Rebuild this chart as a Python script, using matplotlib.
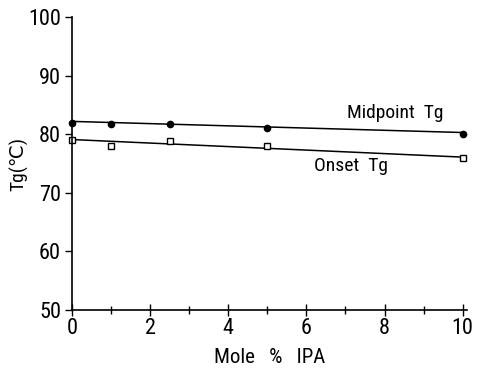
import matplotlib
matplotlib.use("Agg")
import matplotlib.pyplot as plt
from matplotlib import font_manager
from matplotlib.ticker import MultipleLocator

mole_pct = [0, 1, 2.5, 5, 10]
midpoint_tg = [81.9, 81.8, 81.8, 81.0, 80.0]
onset_tg = [79.0, 78.0, 78.8, 78.0, 75.9]
mid_fit = [82.2, 80.3]
onset_fit = [79.1, 76.1]
fit_x = [0, 10]

# prefer a narrow face if the box has one
names = {f.name for f in font_manager.fontManager.ttflist}
family = [n for n in ["Roboto Condensed", "Liberation Sans Narrow", "DejaVu Sans"] if n in names]
plt.rcParams["font.family"] = family + ["DejaVu Sans"]

fig = plt.figure(figsize=(4.87, 3.73), dpi=100)
ax = fig.add_axes([0.148, 0.169, 0.81, 0.785])

ax.plot(fit_x, mid_fit, color="black", lw=1.1)
ax.plot(fit_x, onset_fit, color="black", lw=1.1)
ax.plot(mole_pct, midpoint_tg, "o", color="black", ms=4.5, clip_on=False)
ax.plot(mole_pct, onset_tg, "s", mfc="white", mec="black", mew=1.0, ms=4.5, clip_on=False)

ax.text(7.05, 83.6, "Midpoint  Tg", fontsize=14, va="center")
ax.text(6.2, 74.5, "Onset  Tg", fontsize=14, va="center")

ax.set_xlim(0, 10.1)
ax.set_ylim(50, 100)
ax.xaxis.set_major_locator(MultipleLocator(2))
ax.xaxis.set_minor_locator(MultipleLocator(1))
ax.yaxis.set_major_locator(MultipleLocator(10))
ax.tick_params(axis="x", which="major", direction="inout", length=8, width=1, labelsize=16, pad=2)
ax.tick_params(axis="x", which="minor", direction="inout", length=6, width=1)
ax.tick_params(axis="y", which="major", direction="out", length=5, width=1, labelsize=16, pad=3)

for side in ["top", "right"]:
    ax.spines[side].set_visible(False)
for side in ["left", "bottom"]:
    ax.spines[side].set_linewidth(1.2)

ax.set_xlabel("Mole   %   IPA", fontsize=15, labelpad=6)
ax.set_ylabel("Tg(\u2103)", fontsize=14, labelpad=0)

fig.savefig("out.png", dpi=100)
